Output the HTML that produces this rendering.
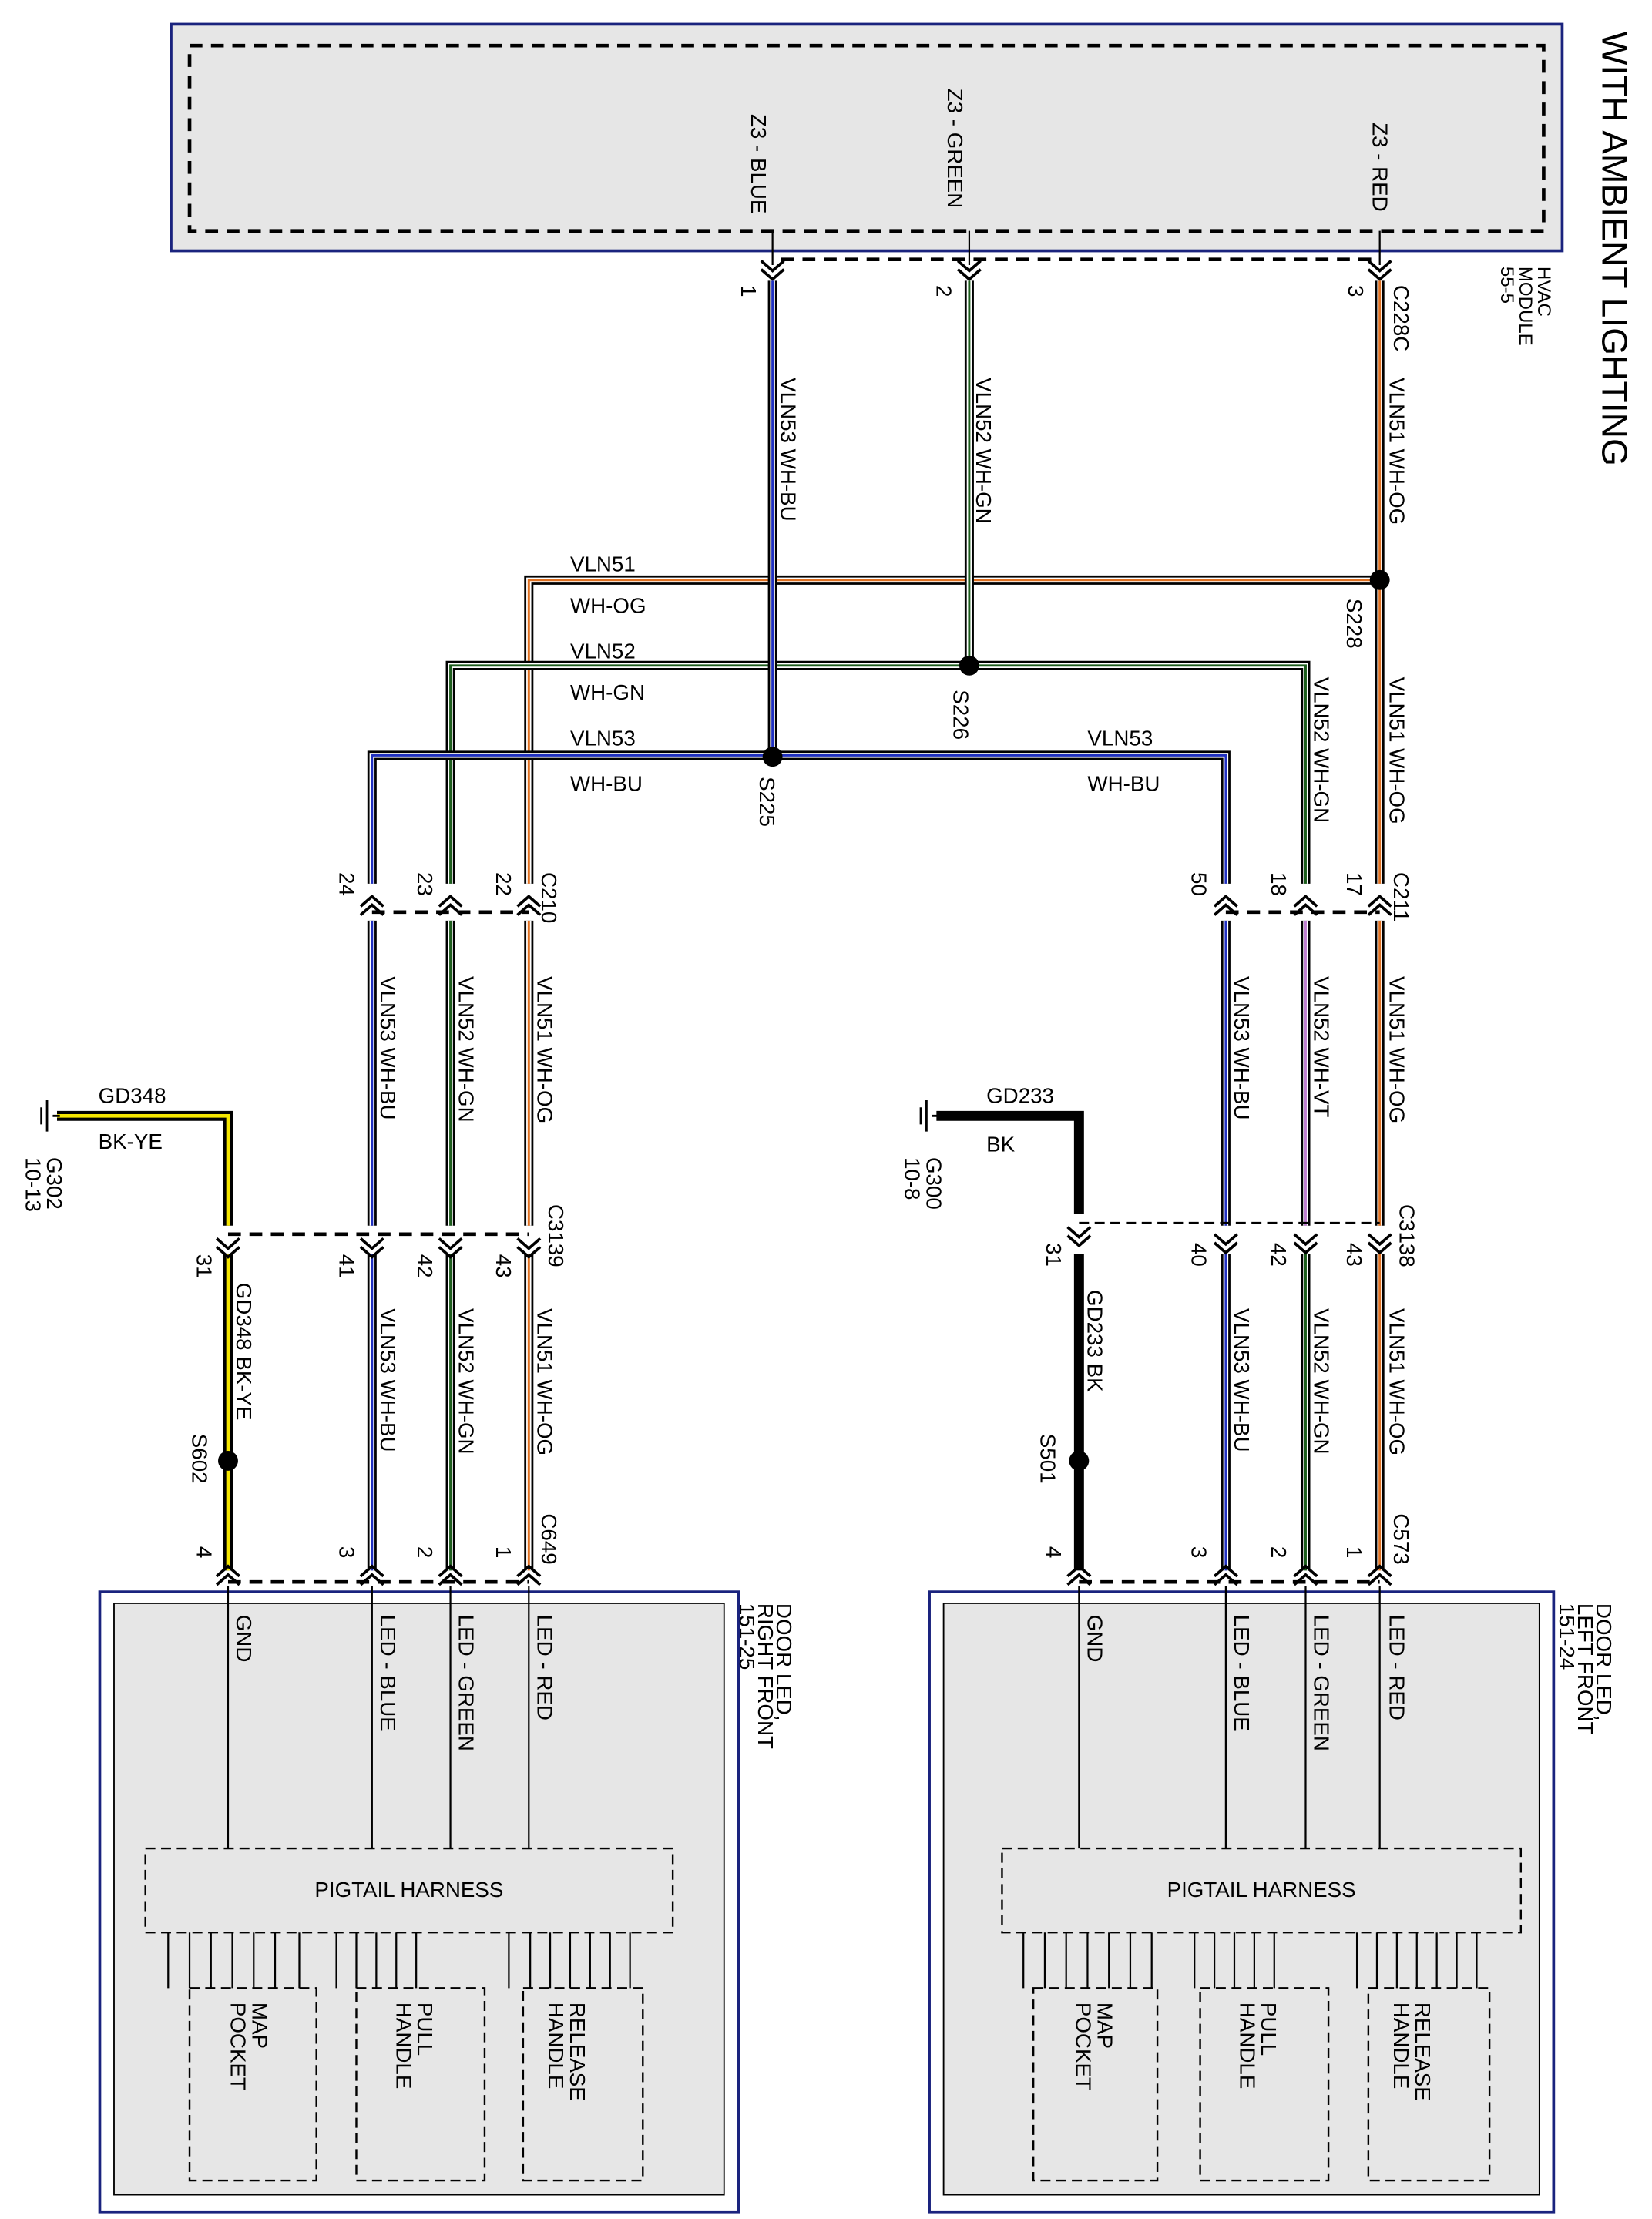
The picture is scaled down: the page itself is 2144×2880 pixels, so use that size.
<!DOCTYPE html>
<html><head><meta charset="utf-8"><style>
html,body{margin:0;padding:0;background:#fff}
svg{display:block}
text{font-family:"Liberation Sans Narrow","Liberation Sans",sans-serif;font-size:15px;fill:#000}
.k{stroke:#000;stroke-width:6.5;fill:none}
.w{stroke:#fff;stroke-width:3.5;fill:none}
.og{stroke:#e07020;stroke-width:1.6;fill:none}
.gn{stroke:#1d5e1d;stroke-width:1.6;fill:none}
.bu{stroke:#2030c0;stroke-width:1.6;fill:none}
.vt{stroke:#c080d0;stroke-width:1.6;fill:none}
.d{stroke:#000;stroke-width:2.5;stroke-dasharray:9 6;fill:none}
.d1{stroke:#000;stroke-width:1.3;stroke-dasharray:7 4;fill:none}
.t{stroke:#000;stroke-width:1.2;fill:none}
.ch{stroke:#000;stroke-width:2;fill:none}
</style></head><body>
<svg width="2144" height="2880" viewBox="0 0 1159 1557" preserveAspectRatio="none" xmlns="http://www.w3.org/2000/svg">
<!-- top module -->
<rect x="120" y="17" width="976" height="159" fill="#e6e6e6" stroke="#1a237e" stroke-width="2"/>
<rect x="133" y="32" width="950" height="130" class="d" fill="none"/>
<text transform="translate(527,80) rotate(90)">Z3 - BLUE</text>
<text transform="translate(665,62) rotate(90)">Z3 - GREEN</text>
<text transform="translate(963,86) rotate(90)">Z3 - RED</text>
<text transform="translate(1124,22) rotate(90)" style="font-size:25px">WITH AMBIENT LIGHTING</text>
<text transform="translate(1079,187) rotate(90)" style="font-size:13px">HVAC</text>
<text transform="translate(1066,187) rotate(90)" style="font-size:13px">MODULE</text>
<text transform="translate(1053,187) rotate(90)" style="font-size:13px">55-5</text>
<path class="t" d="M542 162V186M680 162V186M968 162V186"/>
<path class="d" d="M548 182H968"/>
<g class="ch">
<path d="M534 183L542 190L550 183M534 189L542 196L550 189"/>
<path d="M672 183L680 190L688 183M672 189L680 196L688 189"/>
<path d="M960 183L968 190L976 183M960 189L968 196L976 189"/>
</g>
<text transform="translate(520,200) rotate(90)">1</text>
<text transform="translate(657,200) rotate(90)">2</text>
<text transform="translate(946,200) rotate(90)">3</text>
<text transform="translate(978,200) rotate(90)">C228C</text>

<!-- wires OG -->
<g>
<path class="k" d="M968 197V620M968 407H371V620M371 646V860M968 646V860M371 880V1102M968 880V1102"/>
<path class="w" d="M968 197V620M968 407H371V620M371 646V860M968 646V860M371 880V1102M968 880V1102"/>
<path class="og" d="M968 197V620M968 407H371V620M371 646V860M968 646V860M371 880V1102M968 880V1102"/>
</g>
<!-- GN -->
<g>
<path class="k" d="M680 197V467M316 620V467H916V620M316 646V860M916 646V860M316 880V1102M916 880V1102"/>
<path class="w" d="M680 197V467M316 620V467H916V620M316 646V860M916 646V860M316 880V1102M916 880V1102"/>
<path class="gn" d="M680 197V467M316 620V467H916V620M316 646V860M316 880V1102M916 880V1102"/>
<path class="vt" d="M916 646V860"/>
</g>
<!-- BU -->
<g>
<path class="k" d="M542 197V530M261 620V530H860V620M261 646V860M860 646V860M261 880V1102M860 880V1102"/>
<path class="w" d="M542 197V530M261 620V530H860V620M261 646V860M860 646V860M261 880V1102M860 880V1102"/>
<path class="bu" d="M542 197V530M261 620V530H860V620M261 646V860M860 646V860M261 880V1102M860 880V1102"/>
</g>
<!-- grounds -->
<path d="M160 860V783H40" stroke="#000" stroke-width="7" fill="none"/>
<path d="M160 860V783H40" stroke="#f5e600" stroke-width="2.5" fill="none"/>
<path d="M160 880V1102" stroke="#000" stroke-width="7" fill="none"/>
<path d="M160 880V1102" stroke="#f5e600" stroke-width="2.5" fill="none"/>
<path d="M757 852V783H657M757 880V1102" stroke="#000" stroke-width="7" fill="none"/>
<path class="t" d="M33 772V794M29 777V789M37 783H42M650 772V794M646 777V789M654 783H660" style="stroke-width:1.5"/>
<text x="69" y="774">GD348</text><text x="69" y="806">BK-YE</text>
<text x="692" y="774">GD233</text><text x="692" y="808">BK</text>
<text transform="translate(33,812) rotate(90)">G302</text>
<text transform="translate(18,812) rotate(90)">10-13</text>
<text transform="translate(650,812) rotate(90)">G300</text>
<text transform="translate(635,812) rotate(90)">10-8</text>

<!-- splices -->
<circle cx="968" cy="407" r="7"/><circle cx="680" cy="467" r="7"/><circle cx="542" cy="531" r="7"/>
<circle cx="160" cy="1025" r="7"/><circle cx="757" cy="1025" r="7"/>
<text transform="translate(945,420) rotate(90)">S228</text>
<text transform="translate(669,484) rotate(90)">S226</text>
<text transform="translate(533,545) rotate(90)">S225</text>
<text transform="translate(135,1006) rotate(90)">S602</text>
<text transform="translate(730,1006) rotate(90)">S501</text>

<!-- wire labels -->
<text transform="translate(548,265) rotate(90)">VLN53  WH-BU</text>
<text transform="translate(685,265) rotate(90)">VLN52 WH-GN</text>
<text transform="translate(975,265) rotate(90)">VLN51  WH-OG</text>
<text x="400" y="401">VLN51</text><text x="400" y="430">WH-OG</text>
<text x="400" y="462">VLN52</text><text x="400" y="491">WH-GN</text>
<text x="400" y="523">VLN53</text><text x="400" y="555">WH-BU</text>
<text x="763" y="523">VLN53</text><text x="763" y="555">WH-BU</text>
<text transform="translate(922,475) rotate(90)">VLN52   WH-GN</text>
<text transform="translate(975,475) rotate(90)">VLN51   WH-OG</text>

<!-- C210 / C211 -->
<path class="d" d="M261 640H371M860 640H968"/>
<g class="ch">
<path d="M253 636L261 629L269 636M253 642L261 635L269 642"/>
<path d="M308 636L316 629L324 636M308 642L316 635L324 642"/>
<path d="M363 636L371 629L379 636M363 642L371 635L379 642"/>
<path d="M852 636L860 629L868 636M852 642L860 635L868 642"/>
<path d="M908 636L916 629L924 636M908 642L916 635L924 642"/>
<path d="M960 636L968 629L976 636M960 642L968 635L976 642"/>
</g>
<text transform="translate(238,612) rotate(90)">24</text>
<text transform="translate(293,612) rotate(90)">23</text>
<text transform="translate(348,612) rotate(90)">22</text>
<text transform="translate(380,612) rotate(90)">C210</text>
<text transform="translate(836,612) rotate(90)">50</text>
<text transform="translate(892,612) rotate(90)">18</text>
<text transform="translate(945,612) rotate(90)">17</text>
<text transform="translate(978,612) rotate(90)">C211</text>

<text transform="translate(377,685) rotate(90)">VLN51  WH-OG</text>
<text transform="translate(322,685) rotate(90)">VLN52  WH-GN</text>
<text transform="translate(267,685) rotate(90)">VLN53  WH-BU</text>
<text transform="translate(975,685) rotate(90)">VLN51  WH-OG</text>
<text transform="translate(922,685) rotate(90)">VLN52  WH-VT</text>
<text transform="translate(866,685) rotate(90)">VLN53  WH-BU</text>

<!-- C3139 / C3138 -->
<path class="d" d="M160 866H371"/>
<path class="d1" d="M757 858H968"/>
<g class="ch">
<path d="M152 869L160 876L168 869M152 875L160 882L168 875"/>
<path d="M253 869L261 876L269 869M253 875L261 882L269 875"/>
<path d="M308 869L316 876L324 869M308 875L316 882L324 875"/>
<path d="M363 869L371 876L379 869M363 875L371 882L379 875"/>
<path d="M749 861L757 868L765 861M749 867L757 874L765 867"/>
<path d="M852 866L860 873L868 866M852 872L860 879L868 872"/>
<path d="M908 866L916 873L924 866M908 872L916 879L924 872"/>
<path d="M960 866L968 873L976 866M960 872L968 879L976 872"/>
</g>
<text transform="translate(138,880) rotate(90)">31</text>
<text transform="translate(238,880) rotate(90)">41</text>
<text transform="translate(293,880) rotate(90)">42</text>
<text transform="translate(348,880) rotate(90)">43</text>
<text transform="translate(385,845) rotate(90)">C3139</text>
<text transform="translate(734,872) rotate(90)">31</text>
<text transform="translate(836,872) rotate(90)">40</text>
<text transform="translate(892,872) rotate(90)">42</text>
<text transform="translate(945,872) rotate(90)">43</text>
<text transform="translate(982,845) rotate(90)">C3138</text>

<text transform="translate(166,900) rotate(90)">GD348   BK-YE</text>
<text transform="translate(377,918) rotate(90)">VLN51  WH-OG</text>
<text transform="translate(322,918) rotate(90)">VLN52  WH-GN</text>
<text transform="translate(267,918) rotate(90)">VLN53  WH-BU</text>
<text transform="translate(763,905) rotate(90)">GD233   BK</text>
<text transform="translate(975,918) rotate(90)">VLN51  WH-OG</text>
<text transform="translate(922,918) rotate(90)">VLN52  WH-GN</text>
<text transform="translate(866,918) rotate(90)">VLN53  WH-BU</text>

<!-- bottom boxes -->
<rect x="70" y="1117" width="448" height="435" fill="#fff" stroke="#1a237e" stroke-width="2"/>
<rect x="80" y="1125" width="428" height="415" fill="#e6e6e6" stroke="#000" stroke-width="1"/>
<rect x="652" y="1117" width="438" height="435" fill="#fff" stroke="#1a237e" stroke-width="2"/>
<rect x="662" y="1125" width="418" height="415" fill="#e6e6e6" stroke="#000" stroke-width="1"/>
<path class="d" d="M160 1110H371M757 1110H968"/>
<g class="ch">
<path d="M152 1106L160 1099L168 1106M152 1112L160 1105L168 1112"/>
<path d="M253 1106L261 1099L269 1106M253 1112L261 1105L269 1112"/>
<path d="M308 1106L316 1099L324 1106M308 1112L316 1105L324 1112"/>
<path d="M363 1106L371 1099L379 1106M363 1112L371 1105L379 1112"/>
<path d="M749 1106L757 1099L765 1106M749 1112L757 1105L765 1112"/>
<path d="M852 1106L860 1099L868 1106M852 1112L860 1105L868 1112"/>
<path d="M908 1106L916 1099L924 1106M908 1112L916 1105L924 1112"/>
<path d="M960 1106L968 1099L976 1106M960 1112L968 1105L976 1112"/>
</g>
<text transform="translate(138,1085) rotate(90)">4</text>
<text transform="translate(238,1085) rotate(90)">3</text>
<text transform="translate(293,1085) rotate(90)">2</text>
<text transform="translate(348,1085) rotate(90)">1</text>
<text transform="translate(380,1062) rotate(90)">C649</text>
<text transform="translate(734,1085) rotate(90)">4</text>
<text transform="translate(836,1085) rotate(90)">3</text>
<text transform="translate(892,1085) rotate(90)">2</text>
<text transform="translate(945,1085) rotate(90)">1</text>
<text transform="translate(978,1062) rotate(90)">C573</text>

<path class="t" d="M160 1113V1297M261 1113V1297M316 1113V1297M371 1113V1297M757 1113V1297M860 1113V1297M916 1113V1297M968 1113V1297"/>
<text transform="translate(166,1133) rotate(90)">GND</text>
<text transform="translate(267,1133) rotate(90)">LED - BLUE</text>
<text transform="translate(322,1133) rotate(90)">LED - GREEN</text>
<text transform="translate(377,1133) rotate(90)">LED - RED</text>
<text transform="translate(763,1133) rotate(90)">GND</text>
<text transform="translate(866,1133) rotate(90)">LED - BLUE</text>
<text transform="translate(922,1133) rotate(90)">LED - GREEN</text>
<text transform="translate(975,1133) rotate(90)">LED - RED</text>
<text transform="translate(545,1125) rotate(90)">DOOR LED,</text>
<text transform="translate(532,1125) rotate(90)">RIGHT FRONT</text>
<text transform="translate(519,1125) rotate(90)">151-25</text>
<text transform="translate(1120,1125) rotate(90)">DOOR LED,</text>
<text transform="translate(1107,1125) rotate(90)">LEFT FRONT</text>
<text transform="translate(1094,1125) rotate(90)">151-24</text>

<!-- pigtail -->
<rect x="102" y="1297" width="370" height="59" class="d1" fill="#e6e6e6"/>
<rect x="703" y="1297" width="364" height="59" class="d1" fill="#e6e6e6"/>
<text x="287" y="1331" text-anchor="middle">PIGTAIL HARNESS</text>
<text x="885" y="1331" text-anchor="middle">PIGTAIL HARNESS</text>
<path class="t" d="M118 1356V1395M133 1356V1395M148 1356V1395M163 1356V1395M178 1356V1395M193 1356V1395M210 1356V1395
M236 1356V1395M250 1356V1395M264 1356V1395M278 1356V1395M292 1356V1395
M357 1356V1395M372 1356V1395M386 1356V1395M400 1356V1395M414 1356V1395M428 1356V1395M442 1356V1395
M718 1356V1395M733 1356V1395M748 1356V1395M763 1356V1395M778 1356V1395M793 1356V1395M808 1356V1395
M838 1356V1395M852 1356V1395M866 1356V1395M880 1356V1395M894 1356V1395
M952 1356V1395M966 1356V1395M980 1356V1395M994 1356V1395M1008 1356V1395M1022 1356V1395M1036 1356V1395"/>
<rect x="133" y="1395" width="89" height="135" class="d1"/>
<rect x="250" y="1395" width="90" height="135" class="d1"/>
<rect x="367" y="1395" width="84" height="135" class="d1"/>
<rect x="725" y="1395" width="87" height="135" class="d1"/>
<rect x="842" y="1395" width="90" height="135" class="d1"/>
<rect x="960" y="1395" width="85" height="135" class="d1"/>
<text transform="translate(177,1405) rotate(90)">MAP</text>
<text transform="translate(162,1405) rotate(90)">POCKET</text>
<text transform="translate(293,1405) rotate(90)">PULL</text>
<text transform="translate(278,1405) rotate(90)">HANDLE</text>
<text transform="translate(400,1405) rotate(90)">RELEASE</text>
<text transform="translate(385,1405) rotate(90)">HANDLE</text>
<text transform="translate(770,1405) rotate(90)">MAP</text>
<text transform="translate(755,1405) rotate(90)">POCKET</text>
<text transform="translate(885,1405) rotate(90)">PULL</text>
<text transform="translate(870,1405) rotate(90)">HANDLE</text>
<text transform="translate(993,1405) rotate(90)">RELEASE</text>
<text transform="translate(978,1405) rotate(90)">HANDLE</text>
</svg>
</body></html>
